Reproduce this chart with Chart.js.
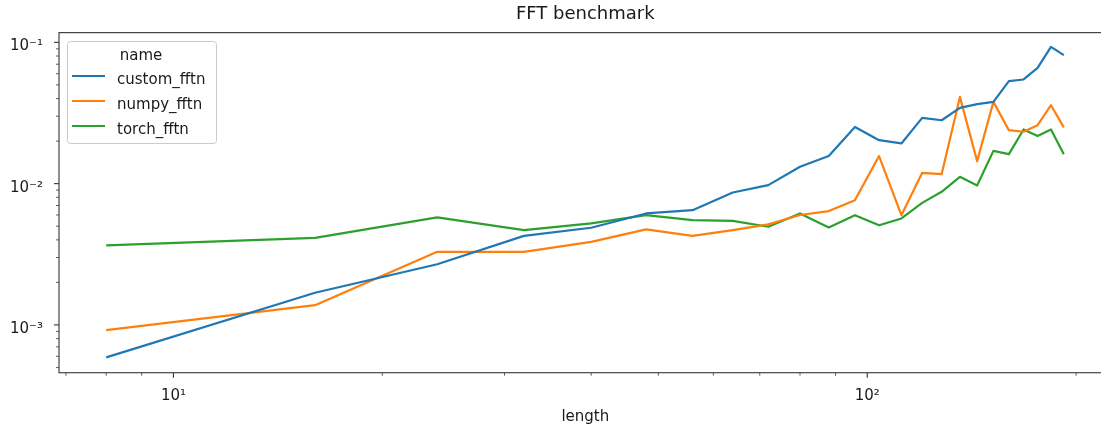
<!DOCTYPE html>
<html><head><meta charset="utf-8">
<script src="https://cdn.jsdelivr.net/npm/chart.js@4/dist/chart.umd.min.js"></script>
<style>html,body{margin:0;padding:0;background:#fff;overflow:hidden}#wrap{width:1125px;height:431px}</style>
</head><body><div id="wrap"><canvas id="c" width="1125" height="431"></canvas></div>
<script>
const lengths = [8,16,24,32,40,48,56,64,72,80,88,96,104,112,120,128,136,144,152,160,168,176,184,192];
const customFftn = [0.000589,0.00169,0.00269,0.00427,0.00487,0.00615,0.00649,0.00866,0.00976,0.01315,0.01567,0.0252,0.0203,0.01925,0.0292,0.0281,0.0344,0.0365,0.0379,0.0531,0.0546,0.066,0.0929,0.0812];
const numpyFftn = [0.000919,0.00138,0.00329,0.00329,0.00387,0.00474,0.00427,0.00469,0.00515,0.00600,0.00639,0.00764,0.01567,0.00598,0.01192,0.01167,0.0411,0.01443,0.0379,0.0239,0.0233,0.0259,0.0359,0.025];
const torchFftn = [0.00365,0.00413,0.00577,0.00469,0.00523,0.00598,0.00552,0.00545,0.00495,0.00615,0.0049,0.00598,0.00508,0.00567,0.00731,0.00875,0.01117,0.00971,0.01706,0.01617,0.02418,0.0217,0.02418,0.01617];
const seriesNames = ['custom_fftn','numpy_fftn','torch_fftn'];
const seriesColors = ['#1f77b4','#ff7f0e','#2ca02c'];
const xTickValues = [10,100];
const xTickLabels = ['10\u00B9','10\u00B2'];
const xMinorTickValues = [7,8,9,20,30,40,50,60,70,80,90,200];
const yTickValues = [0.001,0.01,0.1];
const yTickLabels = ['10\u207B\u00B3','10\u207B\u00B2','10\u207B\u00B9'];
const yMinorTickValues = [0.0005,0.0006,0.0007,0.0008,0.0009,0.002,0.003,0.004,0.005,0.006,0.007,0.008,0.009,0.02,0.03,0.04,0.05,0.06,0.07,0.08,0.09];
const chartTitle = 'FFT benchmark';
const xAxisTitle = 'length';
const legendTitle = 'name';

const FONT = '"DejaVu Sans", sans-serif';
const TEXT = '#1a1a1a';
const seriesValues = [customFftn, numpyFftn, torchFftn];

const framePlugin = {
  id: 'framePlugin',
  afterDatasetsDraw(chart) {
    const {ctx, chartArea: a, scales: {x, y}} = chart;
    ctx.save();
    ctx.strokeStyle = '#333';
    const seg = (x1, y1, x2, y2, w) => { ctx.lineWidth = w; ctx.beginPath(); ctx.moveTo(x1, y1); ctx.lineTo(x2, y2); ctx.stroke(); };
    xTickValues.forEach(v => { const p = x.getPixelForValue(v); seg(p, a.bottom, p, a.bottom + 5, 1.1); });
    xMinorTickValues.forEach(v => { const p = x.getPixelForValue(v); seg(p, a.bottom, p, a.bottom + 3, 0.8); });
    yTickValues.forEach(v => { const p = y.getPixelForValue(v); seg(a.left, p, a.left - 5, p, 1.1); });
    yMinorTickValues.forEach(v => { const p = y.getPixelForValue(v); seg(a.left, p, a.left - 3, p, 0.8); });
    ctx.strokeStyle = '#444';
    ctx.lineWidth = 1.2;
    ctx.strokeRect(a.left, a.top, a.right - a.left, a.bottom - a.top);
    // legend
    const lx = 67, ly = 41, lw = 149, lh = 102;
    ctx.beginPath();
    if (ctx.roundRect) ctx.roundRect(lx + 0.5, ly + 0.5, lw, lh, 3); else ctx.rect(lx + 0.5, ly + 0.5, lw, lh);
    ctx.fillStyle = 'rgba(255,255,255,0.8)';
    ctx.fill();
    ctx.strokeStyle = '#cccccc';
    ctx.lineWidth = 1;
    ctx.stroke();
    ctx.font = '15px ' + FONT;
    ctx.fillStyle = TEXT;
    ctx.textAlign = 'center';
    ctx.textBaseline = 'alphabetic';
    ctx.fillText(legendTitle, 141, 60);
    ctx.textAlign = 'left';
    chart.data.datasets.forEach((ds, i) => {
      const yy = 76 + i * 25;
      ctx.strokeStyle = ds.borderColor;
      ctx.lineWidth = 2.2;
      ctx.beginPath(); ctx.moveTo(72, yy); ctx.lineTo(105, yy); ctx.stroke();
      ctx.fillStyle = TEXT;
      ctx.fillText(ds.label, 117, yy + 8);
    });
    ctx.restore();
  }
};

new Chart(document.getElementById('c'), {
  type: 'line',
  data: {
    datasets: seriesNames.map((name, i) => ({
      label: name,
      data: lengths.map((len, j) => ({x: len, y: seriesValues[i][j]})),
      borderColor: seriesColors[i],
      backgroundColor: seriesColors[i],
      borderWidth: 2.2,
      pointRadius: 0,
      tension: 0,
      borderJoinStyle: 'round',
      fill: false
    }))
  },
  options: {
    responsive: false,
    devicePixelRatio: 1,
    animation: false,
    layout: {padding: {left: 0, top: 0, bottom: 0, right: 13.4}},
    plugins: {
      legend: {display: false},
      tooltip: {enabled: false},
      title: {
        display: true, text: chartTitle, fullSize: false, color: TEXT,
        font: {family: FONT, size: 18, weight: 'normal'},
        padding: {top: 4, bottom: 7}
      }
    },
    scales: {
      x: {
        type: 'logarithmic', min: 6.84, max: 225.0,
        grid: {display: false, drawTicks: true, tickLength: 5},
        border: {display: false},
        afterBuildTicks: s => { s.ticks = xTickValues.map(v => ({value: v})); },
        afterFit: s => { s.height = 58.3; },
        ticks: {
          autoSkip: false, maxRotation: 0, padding: 9, color: TEXT,
          font: {family: FONT, size: 15},
          callback: (v) => { const k = xTickValues.indexOf(v); return k >= 0 ? xTickLabels[k] : ''; }
        },
        title: {display: true, text: xAxisTitle, color: TEXT, font: {family: FONT, size: 15}, padding: {top: 0, bottom: 5}}
      },
      y: {
        type: 'logarithmic', min: 0.000459, max: 0.1172,
        grid: {display: false, drawTicks: true, tickLength: 5},
        border: {display: false},
        afterBuildTicks: s => { s.ticks = yTickValues.map(v => ({value: v})); },
        afterFit: s => { s.width = 59; },
        ticks: {
          autoSkip: false, padding: 11, labelOffset: 4, color: TEXT,
          font: {family: FONT, size: 15},
          callback: (v) => { const k = yTickValues.findIndex(t => Math.abs(t - v) / t < 1e-6); return k >= 0 ? yTickLabels[k] : ''; }
        }
      }
    }
  },
  plugins: [framePlugin]
});
</script>
</body></html>
